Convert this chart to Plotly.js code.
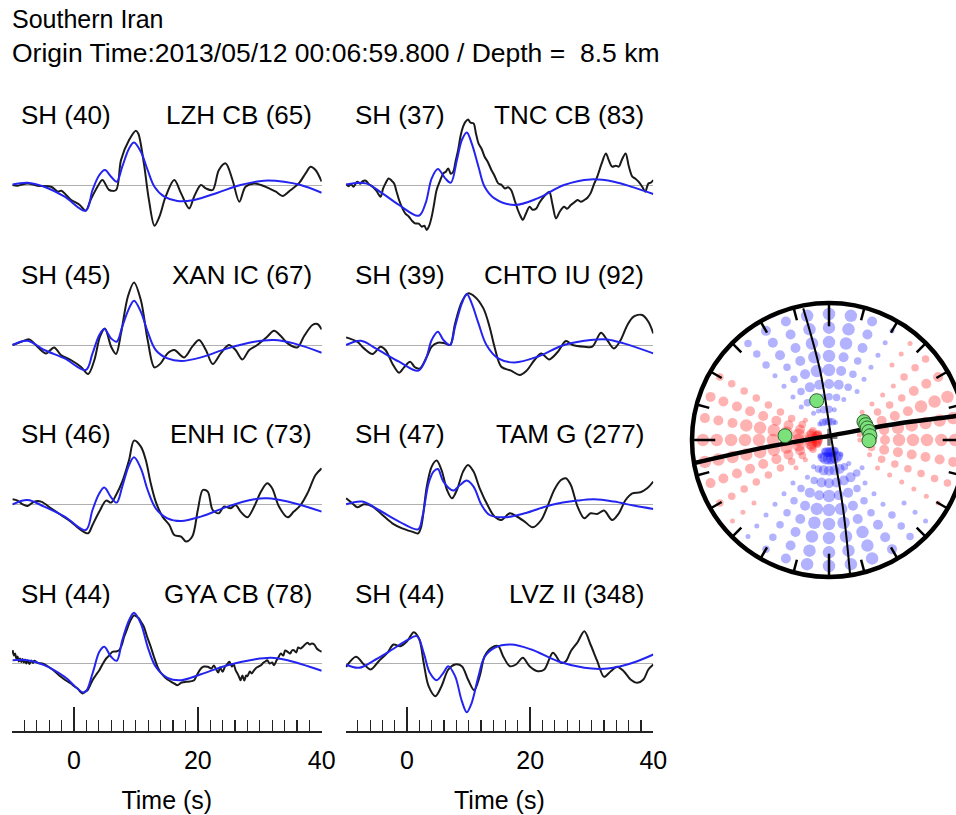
<!DOCTYPE html>
<html>
<head>
<meta charset="utf-8">
<script src="https://cdn.plot.ly/plotly-3.0.1.min.js"></script>
<style>html,body{margin:0;padding:0;background:#fff;}#chart{width:956px;height:815px;}</style>
</head>
<body>
<div id="chart"></div>
<script>
// ---------------- DATA (time in s, amplitude in arbitrary units) ----------------
const titleLine1 = "Southern Iran";
const titleLine2 = "Origin Time:2013/05/12 00:06:59.800 / Depth =\u00a0 8.5 km";
const phaseLabels = ["SH (40)", "SH (37)", "SH (45)", "SH (39)", "SH (46)", "SH (47)", "SH (44)", "SH (44)"];
const stationLabels = ["LZH CB (65)", "TNC CB (83)", "XAN IC (67)", "CHTO IU (92)", "ENH IC (73)", "TAM G (277)", "GYA CB (78)", "LVZ II (348)"];
const timeTicks = [0, 20, 40];
const timeRange = [-10, 40];

const obsLZH = [[-9.9,0.7],[-9.1,0],[-7.5,2.3],[-5.9,0],[-3.7,-1],[-3.0,-4],[-2.6,-6],[-2.0,-5],[-1.3,-9],[-0.5,-14],[0.9,-19],[1.9,-25],[2.7,-14],[3.8,-1],[4.6,5.7],[5.7,-4.3],[6.8,-4.3],[7.6,25.7],[8.9,45.7],[10.0,55],[10.4,52],[11.3,22],[12.1,-14],[13.0,-40],[13.8,-31],[14.8,-11],[16.2,5.7],[17.3,-7.7],[18.6,-22.7],[19.4,-11],[20.5,0.7],[21.3,-2.7],[22.4,-4.3],[23.4,15.7],[24.5,22.3],[25.6,5.7],[26.7,-16],[27.7,-1],[29.1,2.3],[30.2,0.7],[31.5,-2.7],[32.6,-6],[33.7,-10.3],[35,-4.3],[36.3,2.3],[37.4,12.3],[38.2,19],[39.0,15.7],[40.0,4]];
const synLZH = [[-9.9,1.3],[-7.5,3],[-4.8,-1],[-1.5,-11],[1.9,-25],[3.0,-4.3],[4.1,10.7],[5.0,15.7],[6.0,9],[6.9,4],[7.8,19],[8.9,37.3],[9.7,43.3],[10.8,34],[11.9,15.7],[13,-1],[14.6,-11],[16.7,-15.3],[19.4,-14.3],[23.2,-7],[26.9,0.7],[30.7,5],[33.9,4],[36.6,0.7],[40,-7]];

const obsTNC = [[-9.9,1.3],[-9.5,-0.5],[-9.1,1.5],[-8.7,-1],[-8.1,4],[-7.6,2],[-7.2,4.5],[-6.7,5],[-6.2,1.5],[-5.6,-1],[-5.0,-5],[-4.3,-11],[-3.9,-3],[-3.5,2.3],[-3.0,7.3],[-2.5,5],[-2.1,2.3],[-1.7,-6],[-1.3,-14.3],[-0.8,-22],[-0.3,-27.7],[0.3,-31],[0.8,-35],[1.3,-37.7],[1.9,-38],[2.4,-41],[2.8,-40],[3.2,-44.3],[3.6,-40],[4.0,-31],[4.4,-18],[4.8,-4.3],[5.3,4],[5.9,12.3],[6.3,14],[6.7,17.3],[7.1,12],[7.5,14],[7.9,25],[8.3,35.7],[8.7,50],[9.1,59],[9.5,64],[9.9,66.3],[10.3,63],[10.8,62.3],[11.2,52],[11.6,42.3],[12.1,37],[12.6,29],[13.1,24],[13.7,15.7],[14.2,10],[14.8,2.3],[15.3,1],[15.9,-2.7],[16.4,-1.5],[16.9,-4.3],[17.5,-15],[18.0,-24.3],[18.4,-30],[18.8,-34.3],[19.3,-28],[19.9,-21],[20.4,-24],[21.0,-22.7],[21.5,-17],[22.0,-12.7],[22.5,-9],[23.1,-6],[23.6,-18],[24.2,-32.7],[24.8,-26],[25.5,-21],[26.0,-23],[26.6,-19.3],[27.1,-17],[27.7,-14.3],[28.2,-16],[28.8,-14.3],[29.3,-12],[29.8,-7.7],[30.4,2],[30.9,9],[31.6,22],[32.3,32.3],[32.8,25],[33.3,19],[33.9,20],[34.4,19],[34.9,26],[35.5,32.3],[36.0,20],[36.6,9],[37.1,7],[37.6,4],[38.2,-1],[38.7,-6],[39.2,2.3],[39.6,3],[40.0,5.7]];
const synTNC = [[-9.9,1.3],[-6.7,2.3],[-4.0,-7.7],[-1.3,-19.3],[1.9,-30],[3.0,-17.7],[4.0,7.3],[5.0,16.7],[6.2,7.3],[7.1,3],[8.1,25.7],[8.9,45.7],[9.7,53.3],[10.5,42.3],[11.6,19],[12.6,-1],[14.2,-12.7],[17.5,-19.3],[21.2,-12.7],[25.5,0.7],[29.8,6.3],[33.6,4],[36.8,-1.7],[40,-8.3]];

const obsXAN = [[-9.9,0.7],[-8.5,4],[-7.2,6.3],[-5.9,-1],[-4.5,-7.7],[-3.2,-1.7],[-2.1,-9.3],[-0.5,-14.3],[1.1,-21],[2.3,-28.3],[3.3,-14.3],[4.2,9],[5.0,17.3],[6.0,-1],[6.8,-8.3],[7.6,12.3],[8.7,49],[9.7,63.3],[10.8,45.7],[11.9,5.7],[13.0,-21.7],[14.0,-17.7],[15.1,-7.7],[16.2,-4.3],[17.8,-11.7],[19.1,-1],[20.2,5.7],[21.3,-4.3],[22.4,-18.3],[23.7,-7.7],[25.0,0.7],[26.1,-4.3],[27.2,-13.7],[28.3,-4.3],[29.6,0.7],[31.2,9],[32.3,15],[33.4,9.7],[34.5,2.3],[36.1,-1.7],[37.1,9],[38.5,20.7],[39.3,21.7],[40.0,16.3]];
const synXAN = [[-9.9,0.7],[-7.5,5],[-4.8,-4.3],[-1.5,-12.7],[1.9,-24.3],[3.0,-7.7],[4.1,10.7],[4.9,16.7],[6.0,7.3],[6.9,4],[7.8,19],[8.9,37.3],[9.7,45],[10.8,34],[11.9,14],[13.2,-4.3],[15.1,-12.7],[17.3,-15.3],[20.5,-11.7],[24.8,-2.7],[29.1,4],[32.3,5.7],[35.5,2.3],[40,-7]];

const obsCHTO = [[-9.9,8.3],[-8.1,4],[-7.0,-2.7],[-5.6,-8.3],[-4.3,-1],[-3.5,-4.3],[-2.4,-17.7],[-1.3,-27],[-0.5,-21.7],[0.5,-16],[1.3,-21.7],[2.1,-22.7],[3.2,-11],[4.0,-1],[5.0,3],[6.2,2.3],[7.0,0.7],[7.8,22.3],[8.9,44],[9.9,52.3],[11.0,49],[12.4,37.3],[13.4,19],[14.2,-1],[15.3,-21],[16.9,-25],[18.3,-29.3],[19.4,-25],[20.7,-14.3],[21.8,-7.7],[23.1,-13.7],[24.5,-6],[25.8,4.7],[26.9,0.7],[28.8,-1],[30.1,-1],[31.5,13],[32.5,5.7],[33.6,-2.7],[34.7,5.7],[35.8,20.7],[36.8,29],[38.2,30.7],[39.2,24],[40.0,12.3]];
const synCHTO = [[-9.9,0.7],[-7.5,5],[-5.1,-2.7],[-1.3,-16],[1.8,-25],[3.0,-14.3],[4.0,5.7],[5.0,14],[5.9,5.7],[7.0,0.7],[7.8,19],[8.9,42.3],[9.7,51.7],[10.5,42.3],[11.6,22.3],[12.9,0.7],[14.8,-12.7],[17.5,-16.7],[21.2,-11],[25.5,0.7],[29.8,5.7],[32.5,6.3],[35.2,2.3],[40,-7.7]];

const obsENH = [[-9.9,5],[-9.1,3.7],[-8.3,0],[-7.5,-1.7],[-6.4,2.7],[-5.3,2.7],[-3.7,-4],[-2.1,-10.7],[-0.5,-17.3],[1.1,-25.7],[2.3,-29],[3.0,-20.7],[4.1,-7.3],[5.2,3.7],[6.0,1.7],[6.8,9.3],[7.8,22.7],[8.9,44.3],[9.7,63.7],[10.8,57.7],[11.6,44.3],[12.4,21],[13.2,2.7],[14.3,-12.3],[15.4,-20.7],[16.2,-30.7],[17.3,-32.3],[18.1,-37.3],[19.1,-32.3],[20.0,-5.7],[20.8,14.3],[21.6,12.7],[22.4,-5.7],[23.4,-9],[24.2,-2.3],[25.3,-4],[26.1,-0.7],[26.9,-7.3],[28.0,-13],[29.1,-2.3],[30.2,12.7],[31.2,21],[32.0,16],[33.1,-2.3],[34.5,-13],[35.5,-7.3],[36.6,-0.7],[37.7,11],[39.0,29.3],[40.0,36]];
const synENH = [[-9.9,0],[-7.5,4.3],[-4.8,-2.3],[-1.5,-12.3],[1.9,-25.7],[3.0,-5.7],[4.1,11],[4.9,16.7],[6.0,7],[6.9,1.7],[7.8,17.7],[8.9,39.3],[9.7,47],[10.8,36],[11.9,14.3],[13.2,-4],[15.1,-14],[17.3,-16.7],[20.5,-12.3],[24.8,-2.3],[29.1,5],[31.2,6],[34.5,2.7],[40,-7.3]];

const obsTAM = [[-9.9,6],[-8.9,1],[-8.1,-3],[-7.0,0],[-5.6,-2.3],[-4.0,-10.7],[-2.4,-19],[-0.8,-24],[0.8,-27.3],[1.8,-29],[2.3,-22.3],[3.2,17.7],[4.0,37.7],[4.8,43.7],[5.6,34.3],[6.5,14.3],[7.3,6],[8.1,14.3],[9.1,32.7],[9.9,39.3],[10.8,32.7],[11.8,16],[13.2,-2.3],[14.2,-12.3],[15.3,-15.7],[16.7,-9],[17.7,-11.7],[19.1,-17.3],[20.4,-23],[21.8,-15.7],[22.8,-2.3],[23.9,14.3],[25.0,24.3],[25.8,26],[26.6,19.3],[27.7,-2.3],[28.8,-14],[29.8,-9],[30.9,-9.7],[32.0,-6.3],[33.3,-15.7],[34.4,-9],[35.5,4.3],[36.6,11],[37.9,12],[39.0,16],[40.0,22.7]];
const synTAM = [[-9.9,0],[-7.3,2.7],[-4.6,-5.7],[-1.3,-17.3],[1.8,-25],[2.5,-12.3],[3.5,21],[4.3,32.7],[5.0,35.3],[5.9,22.7],[7.5,13.7],[8.6,19.3],[9.7,23.7],[10.8,17.7],[12.1,-0.7],[13.4,-10.7],[15.9,-13],[19.1,-9],[23.4,-0.7],[27.7,3.7],[30.4,5],[33.6,2.7],[36.8,-1.3],[40,-4.7]];

const obsGYA = [[-9.9,13.3],[-9.7,8],[-9.5,10],[-9.3,5],[-9.1,7],[-8.9,2],[-8.7,5],[-8.5,1.5],[-8.3,4.5],[-8.1,1],[-7.9,4],[-7.7,0],[-7.5,3],[-7.2,-0.5],[-6.9,3],[-6.6,0.5],[-6.4,2.7],[-5.8,0.5],[-5.1,0],[-4.4,-2],[-3.7,-5],[-2.9,-9],[-2.1,-13.3],[-1.3,-17],[-0.5,-20],[0.1,-23],[0.6,-25],[1.0,-28],[1.4,-30],[1.8,-28],[2.2,-26.7],[2.6,-22],[3.0,-16.7],[3.5,-12],[4.1,-6.7],[4.6,-1],[5.2,5],[5.7,8],[6.2,11.7],[6.8,12],[7.3,13.3],[7.7,18],[8.1,26.7],[8.5,33],[8.9,40],[9.3,45],[9.7,48.3],[10.1,47],[10.5,45],[10.9,41],[11.3,36.7],[11.8,27],[12.4,16.7],[12.9,7],[13.5,-3.3],[14.0,-9],[14.6,-13.3],[15.1,-16],[15.7,-18.3],[16.2,-20],[16.7,-21.7],[17.4,-19],[18.1,-18.3],[18.7,-18],[19.4,-16.7],[19.9,-11],[20.5,-5],[21.0,-3],[21.6,-3.3],[22.2,-5],[22.6,-2],[22.9,-5],[23.3,-9],[23.6,-4],[24.0,-8.3],[24.4,-3],[24.7,-1],[25.1,1.7],[25.5,-3],[25.8,-1],[26.1,-6.7],[26.4,-10],[26.7,-14],[26.9,-16.7],[27.2,-12],[27.5,-17],[27.8,-12],[28.0,-12.7],[28.4,-8],[28.7,-10],[29.1,-6.7],[29.5,-4],[29.8,-3],[30.2,-1.7],[30.6,1],[30.9,2],[31.2,3.3],[31.6,0],[32.0,1],[32.3,-1.7],[32.7,3],[33.0,6],[33.4,10],[33.8,8],[34.1,13],[34.5,11.7],[34.9,10],[35.2,13],[35.5,13.3],[35.9,11],[36.2,16],[36.6,15],[37.0,17],[37.3,19],[37.7,20.7],[38.1,19],[38.4,20],[38.8,19],[39.2,15],[39.6,13],[40.0,11.7]];
const synGYA = [[-9.9,3.3],[-7.5,3.3],[-4.8,-1.7],[-1.5,-13.3],[1.7,-29],[3.0,-10],[4.1,11.7],[4.9,16.7],[6.0,6.7],[6.9,2.7],[7.8,23.3],[8.9,43.3],[9.7,50.7],[10.8,40],[11.9,16.7],[13.2,-3.3],[15.1,-14.3],[17.3,-16.7],[20.5,-10.7],[24.8,-1.7],[29.1,4],[31.8,5.7],[34.5,3.3],[40,-7.3]];

const obsLVZ = [[-9.9,-3.3],[-8.3,6.7],[-7.0,-1],[-5.9,-6],[-4.6,2.3],[-3.2,10.7],[-2.2,19],[-1.1,17.3],[0.0,22.3],[1.1,31.3],[2.0,24],[2.7,0.7],[3.5,-22.7],[4.6,-32.7],[5.6,-22.7],[6.7,-6],[7.8,-1],[8.9,-2.7],[9.9,-16],[10.9,-26.7],[11.8,-12.7],[12.6,7.3],[13.7,15.7],[14.8,17.3],[15.6,7.3],[16.7,-2.7],[17.7,-1],[18.8,5.7],[19.9,-2.7],[21.2,-7.7],[22.3,-6],[23.7,10.7],[25.0,0.7],[25.8,2.3],[26.6,12.3],[27.7,21.3],[28.8,32.3],[29.8,19],[30.9,2.3],[32.0,-13.3],[33.1,-7.7],[34.1,-3.3],[35.2,-7.7],[36.3,-16],[37.4,-19.3],[38.4,-16],[39.2,-6],[40.0,-1]];
const synLVZ = [[-9.9,-1],[-7.8,-4.3],[-5.1,4],[-2.4,14],[0,23.3],[1.6,27.3],[2.7,10.7],[3.7,-9.3],[4.8,-16.7],[5.9,-9.3],[6.7,-2.7],[7.8,-12.7],[8.9,-37.7],[9.7,-48.7],[10.5,-39.3],[11.6,-12.7],[12.6,6.7],[14.2,15.7],[16.9,19],[20.2,14],[24.5,2.3],[28.8,-4.3],[32.0,-5.3],[34.7,-2.7],[37.4,2.3],[40,9]];

// Panels in reading order (left column, right column) x rows
const observed = [obsLZH, obsTNC, obsXAN, obsCHTO, obsENH, obsTAM, obsGYA, obsLVZ];
const synthetic = [synLZH, synTNC, synXAN, synCHTO, synENH, synTAM, synGYA, synLVZ];

// ---- Focal sphere (lower hemisphere, unit radius) ----
// SH radiation samples: rings (inner -> outer), 36 azimuths each (clockwise from N, 10 deg step),
// lowercase = positive (red), uppercase = negative (blue), letter = size class a..d, 0 = none
const ringRadius = [0.09, 0.135, 0.225, 0.315, 0.409, 0.511, 0.613, 0.715, 0.82, 0.92];
const ringCodes = [
  "000000000 000000BCC CCB0000bc ddcb00000",
  "BBA000000 00000ACDD DDCA00bcd ddcb00ABB",
  "BA000000a a0000ABCC CCBA0abcd ddcba0AAB",
  "BBA00abbc cba0ABCCC CCBA0abcd ddcb0ABBB",
  "CCBA0abcc ccba0ABCC DCCBA0bcd ddcb0ABCC",
  "DCBA0abcd dcba0ABCD DDCBA0bcd ddcb0ABCD",
  "DCBA0abcd dcba0ABCD DDCBA0bcd ddcb0ABCD",
  "DDCAabcdd dcbaABCDD DDCBAabcd dccb0BCCD",
  "DDCAabcdd dcbaABCDD DDCBAabcd dccb0BCCD",
  "DDCAabcdd dcbaABCDD DDCBAabcd dccb0BCCD"
];
// nodal lines (projected)
const nodalAX = [-0.991, -0.504, 0.0, 0.518, 0.927, 0.99];
const nodalAY = [-0.170, -0.061, 0.03, 0.122, 0.175, 0.186];
const nodalBX = [-0.188, -0.066, 0.019, 0.104, 0.153];
const nodalBY = [0.961, 0.511, 0.0, -0.511, -0.973];
// station projections
const staX = [-0.090, -0.321, 0.255, 0.268, 0.279, 0.290, 0.299, 0.292];
const staY = [0.287, 0.031, 0.134, 0.112, 0.088, 0.062, 0.031, -0.005];
const rimTickAz = [0,15,30,45,60,75,90,105,120,135,150,165,180,195,210,225,240,255,270,285,300,315,330,345];

// ---------------- LAYOUT / DRAWING ----------------
const W = 956, H = 815;
const X = px => px / W;
const Y = py => 1 - py / H;
const colPx = [[12, 321.7], [345.5, 653.3]];
const zeroPy = [185.7, 345.7, 504.3, 663.5];
const labelPy = [115.5, 275.3, 433.7, 593.7];
const font = "Liberation Sans, Arial, Helvetica, sans-serif";

const traces = [];
const layout = {
  width: W, height: H,
  margin: {l: 0, r: 0, t: 0, b: 0},
  paper_bgcolor: "#fff", plot_bgcolor: "rgba(0,0,0,0)",
  showlegend: false,
  font: {family: font, color: "#000", size: 25},
  annotations: [], shapes: []
};

for (let k = 0; k < 8; k++) {
  const col = k % 2, row = Math.floor(k / 2), n = k + 1;
  const z = zeroPy[row];
  const topPy = z - 80, botPy = row === 3 ? 731 : z + 80;
  const xa = "xaxis" + n, ya = "yaxis" + n;
  const bottom = row === 3;
  layout[xa] = {
    domain: [X(colPx[col][0]), X(colPx[col][1])], range: timeRange, anchor: "y" + n,
    showgrid: false, zeroline: false, fixedrange: true, visible: bottom
  };
  if (bottom) {
    Object.assign(layout[xa], {
      showline: true, linecolor: "#222", linewidth: 1.5,
      ticks: "inside", tickmode: "array", tickvals: timeTicks, ticktext: timeTicks.map(String),
      ticklen: 24, tickwidth: 1.5, tickcolor: "#222",
      minor: {ticks: "inside", dtick: 2, tick0: 0, ticklen: 11, tickwidth: 1.2, tickcolor: "#222", showgrid: false},
      tickfont: {size: 25, family: font}, ticklabelstandoff: 6,
      title: {text: "Time (s)", font: {size: 25, family: font}, standoff: 19}
    });
  }
  layout[ya] = {
    domain: [Y(botPy), Y(topPy)], range: [-(botPy - z), z - topPy], anchor: "x" + n,
    showgrid: false, showticklabels: false, ticks: "", showline: false,
    zeroline: true, zerolinecolor: "#b0b0b0", zerolinewidth: 1.5, fixedrange: true
  };
  const xr = n === 1 ? "x" : "x" + n, yr = n === 1 ? "y" : "y" + n;
  traces.push({type: "scatter", mode: "lines", xaxis: xr, yaxis: yr,
    x: observed[k].map(p => p[0]), y: observed[k].map(p => p[1]),
    line: {color: "#1a1a1a", width: 2, shape: "spline", smoothing: 0.9}, hoverinfo: "skip"});
  traces.push({type: "scatter", mode: "lines", xaxis: xr, yaxis: yr,
    x: synthetic[k].map(p => p[0]), y: synthetic[k].map(p => p[1]),
    line: {color: "#2424f0", width: 2, shape: "spline", smoothing: 1}, hoverinfo: "skip"});
  layout.annotations.push({xref: "paper", yref: "paper", x: X(colPx[col][0] + 7), y: Y(labelPy[row]),
    xanchor: "left", yanchor: "middle", text: phaseLabels[k], showarrow: false, font: {size: 26, family: font}});
  layout.annotations.push({xref: "paper", yref: "paper", x: X(colPx[col][1] - 7.5), y: Y(labelPy[row]),
    xanchor: "right", yanchor: "middle", text: stationLabels[k], showarrow: false, font: {size: 26, family: font}});
}

layout.annotations.push({xref: "paper", yref: "paper", x: X(10), y: Y(19), xanchor: "left", yanchor: "middle",
  text: titleLine1, showarrow: false, font: {size: 25, family: font}});
layout.annotations.push({xref: "paper", yref: "paper", x: X(10), y: Y(53), xanchor: "left", yanchor: "middle",
  text: titleLine2, showarrow: false, font: {size: 26.5, family: font}});

// focal sphere axes: center px (829,440), radius 137 px
const bc = {cx: 829, cy: 440, R: 137, l: 680, r: 956, t: 295, b: 587};
layout.xaxis9 = {domain: [X(bc.l), X(bc.r)], range: [(bc.l - bc.cx) / bc.R, (bc.r - bc.cx) / bc.R],
  anchor: "y9", visible: false, fixedrange: true};
layout.yaxis9 = {domain: [Y(bc.b), Y(bc.t)], range: [-(bc.b - bc.cy) / bc.R, (bc.cy - bc.t) / bc.R],
  anchor: "x9", visible: false, fixedrange: true};

const sizeOf = {a: 5, b: 7.5, c: 10, d: 12.5};
const red = {x: [], y: [], s: []}, blue = {x: [], y: [], s: []};
ringCodes.forEach((code, i) => {
  const s = code.replace(/\s/g, "");
  const nAz = s.length;
  for (let j = 0; j < nAz; j++) {
    const ch = s[j];
    if (ch === "0") continue;
    const az = j * 2 * Math.PI / nAz, r = ringRadius[i];
    const tgt = ch === ch.toLowerCase() ? red : blue;
    tgt.x.push(r * Math.sin(az)); tgt.y.push(r * Math.cos(az)); tgt.s.push(sizeOf[ch.toLowerCase()]);
  }
});
traces.push({type: "scatter", mode: "markers", xaxis: "x9", yaxis: "y9", x: red.x, y: red.y,
  marker: {color: "rgba(255,10,10,0.45)", size: red.s, line: {width: 0}}, hoverinfo: "skip"});
traces.push({type: "scatter", mode: "markers", xaxis: "x9", yaxis: "y9", x: blue.x, y: blue.y,
  marker: {color: "rgba(10,10,255,0.45)", size: blue.s, line: {width: 0}}, hoverinfo: "skip"});
traces.push({type: "scatter", mode: "markers", xaxis: "x9", yaxis: "y9", x: [0], y: [0.02],
  marker: {symbol: "cross-thin", size: 12, line: {width: 3.5, color: "#7a7a7a"}}, hoverinfo: "skip"});
traces.push({type: "scatter", mode: "lines", xaxis: "x9", yaxis: "y9", x: nodalAX, y: nodalAY,
  line: {color: "#000", width: 4.5, shape: "spline"}, hoverinfo: "skip"});
traces.push({type: "scatter", mode: "lines", xaxis: "x9", yaxis: "y9", x: nodalBX, y: nodalBY,
  line: {color: "#000", width: 2, shape: "spline"}, hoverinfo: "skip"});
traces.push({type: "scatter", mode: "markers", xaxis: "x9", yaxis: "y9", x: staX, y: staY,
  marker: {color: "#7be27b", size: 14, line: {color: "#2f5f2f", width: 1}}, hoverinfo: "skip"});

layout.shapes.push({type: "circle", xref: "x9", yref: "y9", x0: -1, x1: 1, y0: -1, y1: 1,
  line: {color: "#000", width: 4.5}, fillcolor: "rgba(0,0,0,0)", layer: "above"});
rimTickAz.forEach(a => {
  const rad = a * Math.PI / 180, len = (a % 90 === 0) ? 0.17 : 0.095;
  layout.shapes.push({type: "line", xref: "x9", yref: "y9",
    x0: Math.sin(rad), y0: Math.cos(rad), x1: (1 - len) * Math.sin(rad), y1: (1 - len) * Math.cos(rad),
    line: {color: "#000", width: 2.5}, layer: "above"});
});

Plotly.newPlot("chart", traces, layout, {staticPlot: true, displayModeBar: false});
</script>
</body>
</html>
